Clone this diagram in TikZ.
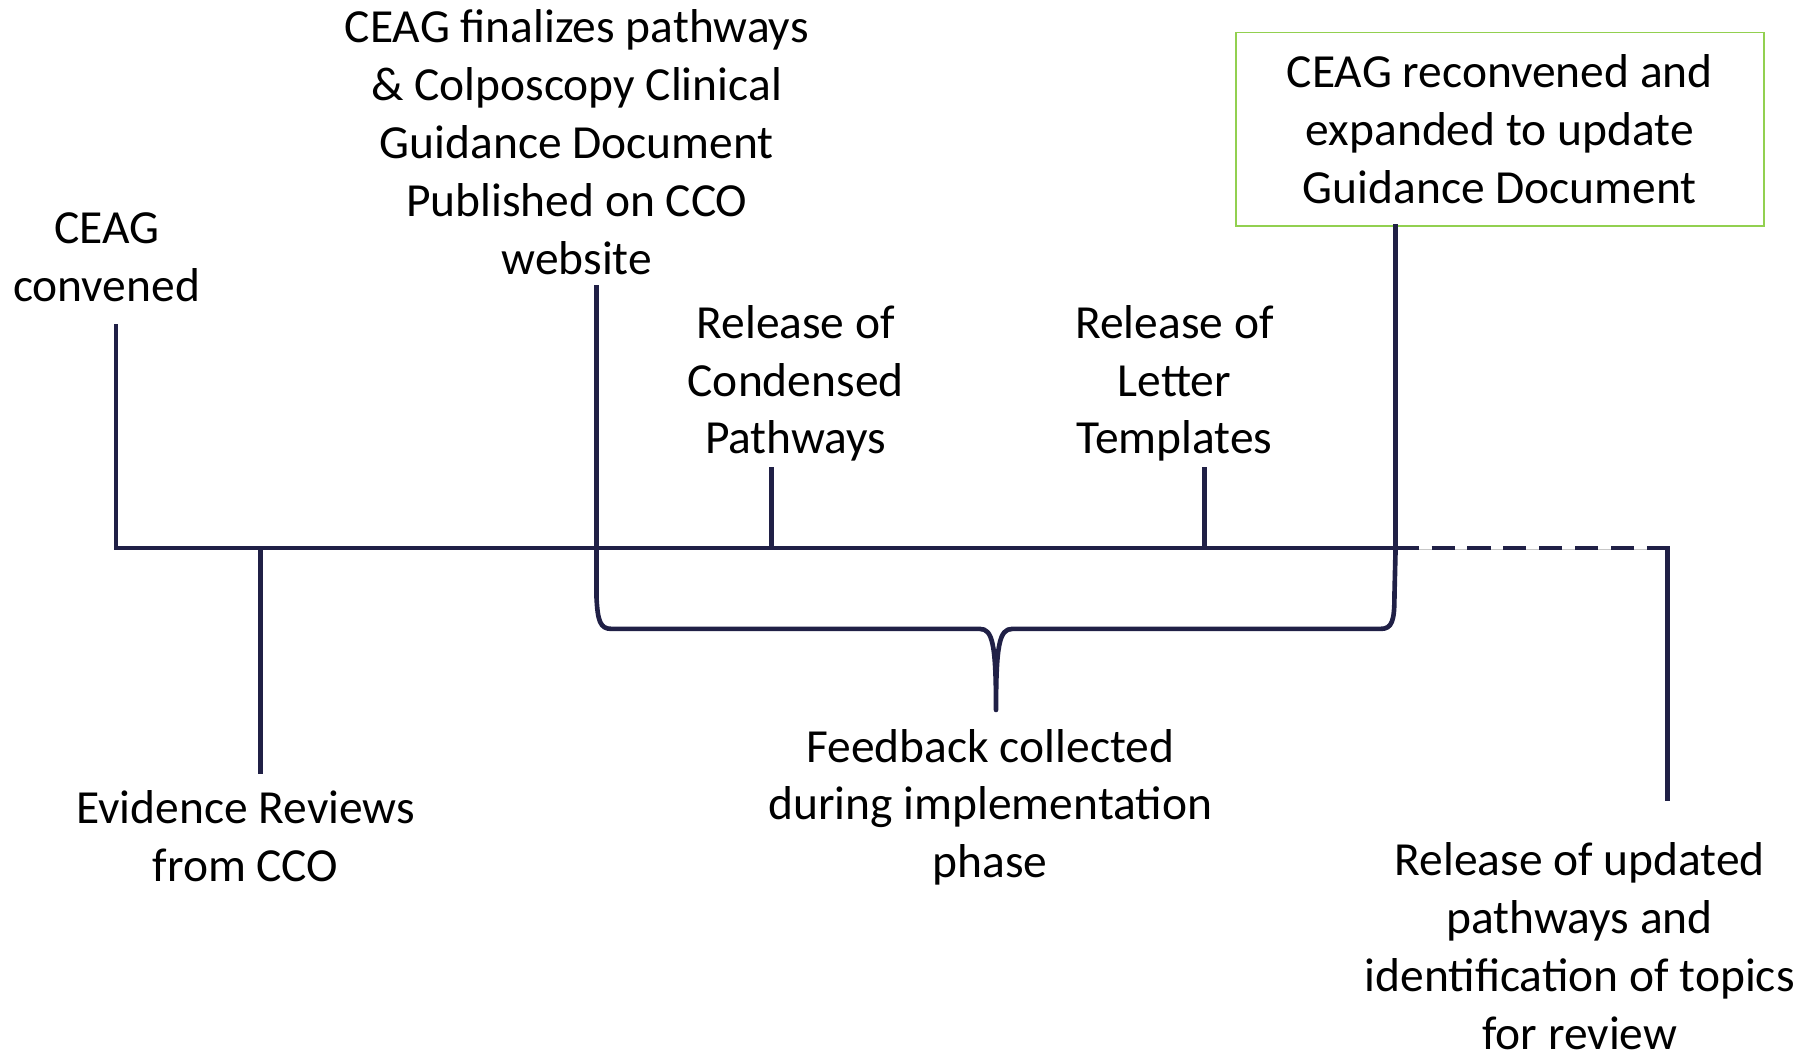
\documentclass[tikz,border=0pt]{standalone}
\usepackage{fontspec}
\setmainfont{Carlito}
\definecolor{navy}{RGB}{32,32,70}
\definecolor{boxgreen}{RGB}{146,208,80}
\begin{document}
\begin{tikzpicture}[x=1pt,y=-1pt,
  lbl/.style={align=center,inner sep=0pt,font=\fontsize{41}{50}\selectfont},
  shade/.style={preaction={draw=black!22,transform canvas={shift={(0.8pt,-1.6pt)}}}},
  tl/.style={draw=navy,line width=4pt,line cap=rect,line join=round,shade},
  future/.style={draw=navy,line width=4pt,dash pattern=on 20pt off 11pt,shade}]
\useasboundingbox (0,0) rectangle (1568,911);

% event labels
\node[lbl] (conv)   at (92,222.5)  {CEAG\\convened};
\node[lbl] (evid)   at (212,722)   {Evidence Reviews\\from CCO};
\node[lbl] (final)  at (498,123)   {CEAG finalizes pathways\\\& Colposcopy Clinical\\Guidance Document\\Published on CCO\\website};
\node[lbl] (cond)   at (687,331)   {Release of\\Condensed\\Pathways};
\node[lbl] (letter) at (1014,331)  {Release of\\Letter\\Templates};
\node[lbl,draw=boxgreen,line width=1.3pt,minimum width=456pt,minimum height=167pt]
      (reconv) at (1295,111.5) {CEAG reconvened and\\expanded to update\\Guidance Document};
\node[lbl] (feed)   at (855,697)   {Feedback collected\\during implementation\\phase};
\node[lbl,text depth=0pt] (upd) at (1364,817) {Release of updated\\pathways and\\identification of topics\\for review};

% points on the time line
\coordinate (m1) at (100,473);
\coordinate (m2) at (225,473);
\coordinate (m3) at (515,473);
\coordinate (m4) at (666,473);
\coordinate (m5) at (1040,473);
\coordinate (m6) at (1205,473);
\coordinate (m7) at (1440,473);

% free ends of the ticks
\coordinate (c1) at (100,282);
\coordinate (c2) at (225,666);
\coordinate (c3) at (515,248);
\coordinate (c4) at (666,405);
\coordinate (c5) at (1040,405);
\coordinate (c7) at (1440,690);
\coordinate (tip) at (860,613);

% ticks
\draw[tl] (c1) -- (m1);
\draw[tl] (m2) -- (c2);
\draw[tl] (c3) -- (m3);
\draw[tl] (c4) -- (m4);
\draw[tl] (c5) -- (m5);
\draw[tl] (reconv.south -| m6) -- (m6);

% time line
\draw[tl] (m1) -- (m6);
\draw[future] (m6) -- (m7);
\draw[tl] (m7) -- (c7);

% implementation-phase brace
\draw[tl,line cap=round]
  (m3) -- (515,515) .. controls (516,536) and (518,543) .. (528,543)
  -- (846,543) .. controls (857,543) and (860,556) .. (tip)
  .. controls (860,556) and (863,543) .. (874,543)
  -- (1192,543) .. controls (1202,543) and (1204,536) .. (1204,515)
  -- (m6);
\end{tikzpicture}
\end{document}
